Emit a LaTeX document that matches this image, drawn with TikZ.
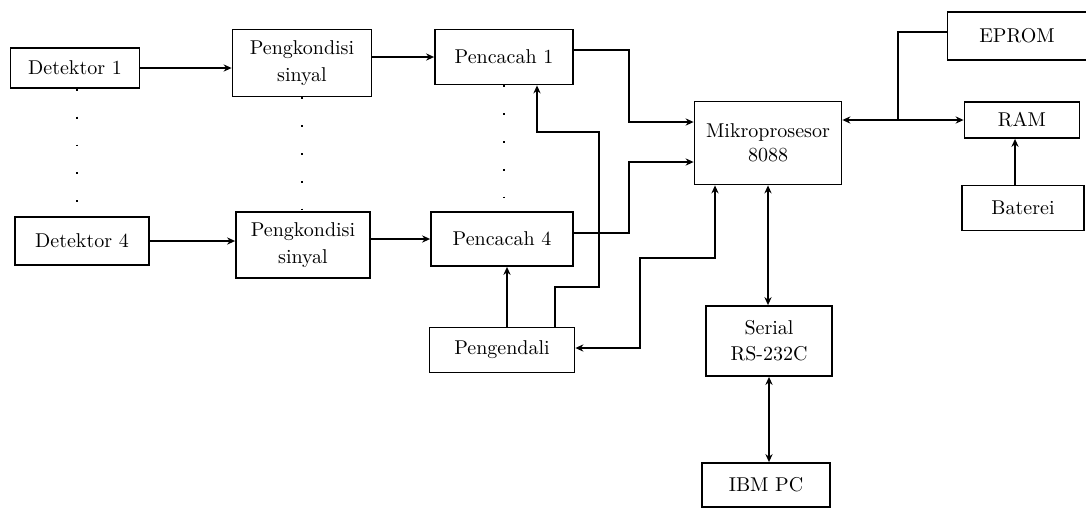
\documentclass[tikz,border=0pt]{standalone}
\usetikzlibrary{arrows.meta}
\begin{document}
\begin{tikzpicture}[x=0.5pt,y=-0.5pt,
  blok/.style={draw,line width=0.9pt,inner sep=1pt,align=center,font=\normalsize},
  conn/.style={line width=1pt},
  arr/.style={conn,-{Stealth[length=4pt,width=3.6pt]}},
  barr/.style={conn,{Stealth[length=4pt,width=3.6pt]}-{Stealth[length=4pt,width=3.6pt]}},
  dotl/.style={line width=1pt,dash pattern=on 0.9pt off 13pt}]
\useasboundingbox (0,0) rectangle (1086,510);
\node[blok,minimum width=64.5pt,minimum height=20pt] (det1) at (75,68) {Detektor 1};
\node[blok,minimum width=69.5pt,minimum height=33.5pt] (pk1) at (302,63) {Pengkondisi\\[1.5pt]sinyal};
\node[blok,minimum width=67pt,minimum height=24pt] (det4) at (82,241) {Detektor 4};
\node[blok,minimum width=67pt,minimum height=33pt] (pk4) at (303,245) {Pengkondisi\\[1.5pt]sinyal};
\node[blok,minimum width=69pt,minimum height=27.5pt] (pc1) at (504,57) {Pencacah 1};
\node[blok,minimum width=71pt,minimum height=27pt] (pc4) at (502,239) {Pencacah 4};
\node[blok,minimum width=72.5pt,minimum height=22.5pt] (peng) at (502,350) {Pengendali};
\node[blok,minimum width=73.5pt,minimum height=41.5pt] (mikro) at (768,143) {Mikroprosesor\\8088};
\node[blok,minimum width=63pt,minimum height=35pt] (serial) at (769,341) {Serial\\[1pt]RS-232C};
\node[blok,minimum width=64pt,minimum height=22pt] (ibm) at (766,485) {IBM PC};
\node[blok,minimum width=69.5pt,minimum height=24pt] (eprom) at (1017,36) {EPROM};
\node[blok,minimum width=57.5pt,minimum height=18pt] (ram) at (1022,120) {RAM};
\node[blok,minimum width=61pt,minimum height=22.5pt] (bat) at (1023,208) {Baterei};
% forward connectors
\draw[arr] (det1.east) -- (det1.east -| pk1.west);
\draw[arr] (pk1.east |- pc1.west) -- (pc1.west);
\draw[arr] (det4.east) -- (det4.east -| pk4.west);
\draw[arr] (pk4.east |- pc4.west) -- (pc4.west);
\draw[arr] ([yshift=3.5pt]pc1.east) -- ++(55,0) |- ([yshift=10.5pt]mikro.west);
\draw[arr] ([yshift=3pt]pc4.east) -- ++(55,0) |- ([yshift=-9.5pt]mikro.west);
\draw[arr] ([xshift=26.5pt]peng.north) -- ++(0,-40) -- ++(44,0) -- ++(0,-155) -- ++(-62,0) -- ([xshift=16.5pt]pc1.south);
\draw[arr] ([xshift=2.5pt]peng.north) -- ([xshift=2.5pt]pc4.south);
\draw[barr] ([xshift=-26.5pt]mikro.south) |- (640,258) |- ([yshift=1pt]peng.east);
\draw[barr] (mikro.south) -- (mikro.south |- serial.north);
\draw[barr] (serial.south) -- (serial.south |- ibm.north);
\draw[barr] (mikro.east |- ram.west) -- (ram.west);
\coordinate (j) at (898,120);
\draw[conn] (j) |- ([yshift=2pt]eprom.west);
\draw[arr] ([xshift=-4pt]bat.north) -- ([xshift=-4pt]bat.north |- ram.south);
% dotted continuation lines
\draw[dotl] ([xshift=1pt]det1.south) -- ([xshift=1pt]det1.south |- det4.north);
\draw[dotl] (pk1.south) -- (pk1.south |- pk4.north);
\draw[dotl] (pc1.south) -- (pc1.south |- pc4.north);
\end{tikzpicture}
\end{document}
